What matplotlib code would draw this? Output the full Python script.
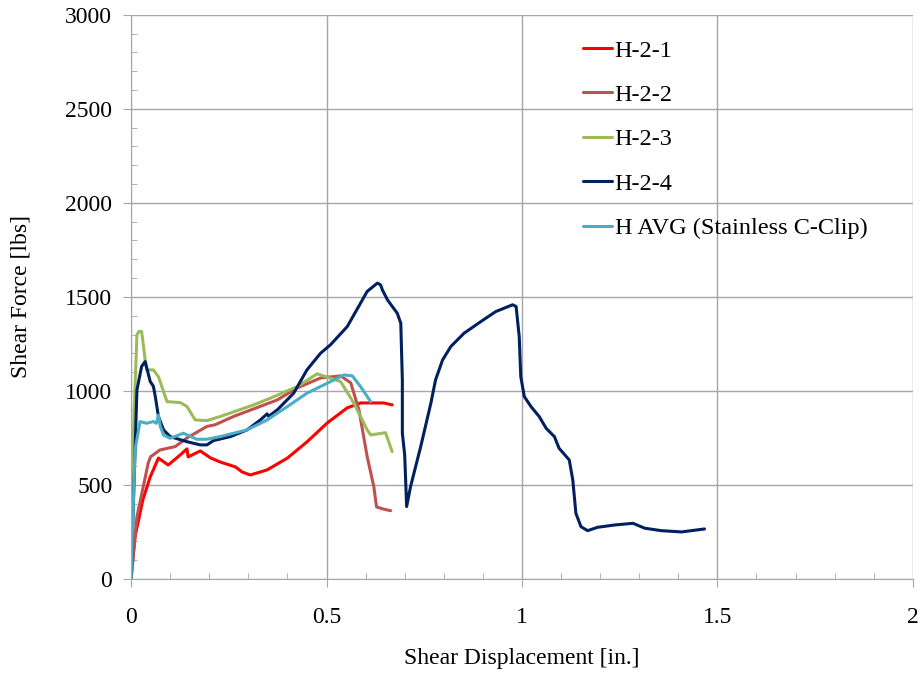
import numpy as np
import matplotlib.pyplot as plt
from matplotlib.ticker import MultipleLocator

plt.rcParams['font.family'] = ['Liberation Serif', 'DejaVu Serif']

# ---------- DATA ----------
h21_x = [0, 0.01, 0.03, 0.049, 0.07, 0.095, 0.126, 0.143, 0.146, 0.177, 0.203, 0.228,
         0.267, 0.284, 0.305, 0.348, 0.40, 0.45, 0.502, 0.553, 0.587, 0.646, 0.668]
h21_y = [0, 223, 420, 543, 643, 606, 660, 692, 649, 681, 644, 622,
         596, 569, 553, 580, 643, 729, 830, 910, 936, 936, 926]

h22_x = [0, 0.015, 0.044, 0.05, 0.074, 0.113, 0.143, 0.194, 0.215, 0.262, 0.313, 0.374,
         0.425, 0.485, 0.536, 0.562, 0.583, 0.604, 0.621, 0.628, 0.645, 0.664]
h22_y = [0, 331, 617, 650, 686, 704, 750, 811, 820, 864, 904, 952,
         1016, 1069, 1080, 1043, 899, 651, 491, 383, 372, 363]

h23_x = [0, 0.006, 0.015, 0.02, 0.027, 0.036, 0.040, 0.057, 0.07, 0.092, 0.126, 0.143,
         0.164, 0.194, 0.228, 0.314, 0.356, 0.425, 0.476, 0.502, 0.536, 0.57, 0.604,
         0.613, 0.651, 0.668]
h23_y = [0, 776, 1298, 1316, 1316, 1165, 1112, 1112, 1076, 943, 938, 917,
         846, 842, 864, 926, 961, 1023, 1091, 1073, 1050, 935, 793,
         766, 778, 677]

h24_x = [0, 0.015, 0.027, 0.036, 0.049, 0.057, 0.062, 0.07, 0.083, 0.1, 0.143, 0.177,
         0.194, 0.211, 0.254, 0.297, 0.331, 0.348, 0.352, 0.374, 0.416, 0.45, 0.485,
         0.51, 0.553, 0.604, 0.630, 0.638, 0.643, 0.656, 0.681, 0.69, 0.694, 0.694,
         0.70, 0.705, 0.715, 0.741, 0.767, 0.779, 0.797, 0.818, 0.852, 0.895, 0.933,
         0.976, 0.985, 0.993, 0.997, 1.006, 1.023, 1.044, 1.062, 1.083, 1.095, 1.121,
         1.130, 1.138, 1.151, 1.168, 1.194, 1.237, 1.284, 1.314, 1.356, 1.408, 1.467]
h24_y = [0, 1005, 1130, 1156, 1050, 1025, 970, 864, 793, 757, 730, 713,
         713, 736, 757, 793, 846, 878, 865, 899, 988, 1112, 1201,
         1245, 1342, 1529, 1573, 1565, 1537, 1484, 1413, 1360, 1059, 775,
         660, 385, 491, 704, 935, 1059, 1165, 1236, 1307, 1369, 1422,
         1458, 1449, 1289, 1076, 970, 917, 864, 801, 757, 695, 633,
         527, 349, 278, 257, 275, 287, 296, 270, 257, 250, 266]

havg_x = [0, 0.01, 0.023, 0.04, 0.057, 0.065, 0.07, 0.075, 0.083, 0.1, 0.134, 0.168,
          0.194, 0.228, 0.297, 0.348, 0.40, 0.45, 0.502, 0.545, 0.566, 0.587, 0.613]
havg_y = [0, 686, 837, 828, 837, 828, 872, 810, 766, 748, 775, 743,
          743, 757, 793, 846, 917, 988, 1041, 1085, 1080, 1023, 943]

series = [
    ('H-2-1', h21_x, h21_y, '#FF0000'),
    ('H-2-2', h22_x, h22_y, '#C0504D'),
    ('H-2-3', h23_x, h23_y, '#9BBB59'),
    ('H-2-4', h24_x, h24_y, '#002060'),
    ('H AVG (Stainless C-Clip)', havg_x, havg_y, '#4BACC6'),
]

# ---------- PLOT ----------
fig = plt.figure(figsize=(9.23, 6.74), dpi=100)
ax = fig.add_axes([0.142, 0.141, 0.847, 0.837])

for name, xs, ys, col in series:
    ax.plot(xs, ys, color=col, lw=2.2, label=name,
            solid_joinstyle='round', solid_capstyle='round')

ax.set_xlim(0, 2)
ax.set_ylim(0, 3000)
ax.set_xticks([0, 0.5, 1, 1.5, 2])
ax.set_xticklabels(['0', '0.5', '1', '1.5', '2'])
ax.xaxis.set_minor_locator(MultipleLocator(0.1))
ax.yaxis.set_major_locator(MultipleLocator(500))
ax.yaxis.set_minor_locator(MultipleLocator(100))

ax.grid(True, which='major', color='#A6A6A6', lw=1.0)
ax.set_axisbelow(True)
for side in ['top', 'right']:
    ax.spines[side].set_visible(False)
for side in ['left', 'bottom']:
    ax.spines[side].set_color('#A6A6A6')

# major ticks stick out past the axis, minor ones point inward
ax.tick_params(which='major', direction='out', length=5.5, color='#A6A6A6', labelsize=17)
ax.tick_params(which='minor', direction='in', length=4, color='#A6A6A6')
ax.tick_params(axis='x', which='major', pad=15)
ax.tick_params(axis='y', which='major', pad=8)

ax.set_xlabel('Shear Displacement [in.]', fontsize=17, labelpad=14)
ax.set_ylabel('Shear Force [lbs]', fontsize=17, labelpad=24)

ax.legend(loc='upper left', bbox_to_anchor=(0.55, 0.995), frameon=False, fontsize=17.5,
          handlelength=1.2, handletextpad=0.1, labelspacing=0.92)

plt.savefig('out.png', dpi=100)
